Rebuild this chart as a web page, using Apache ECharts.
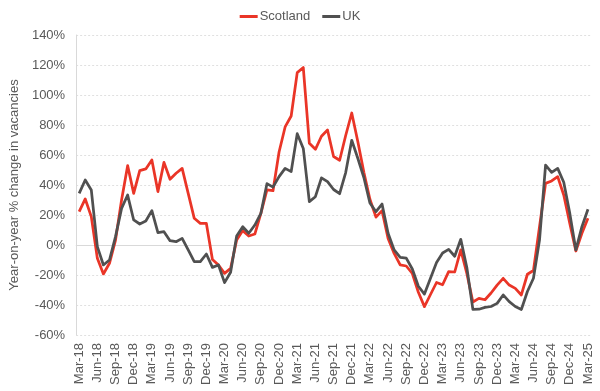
<!DOCTYPE html>
<html>
<head>
<meta charset="utf-8">
<script src="https://cdn.jsdelivr.net/npm/echarts@6/dist/echarts.min.js"></script>
<style>
html,body{margin:0;padding:0;background:#fff;}
#chart{width:600px;height:391px;}
</style>
</head>
<body>
<div id="chart"></div>
<script>
var months = [
 'Mar-18','Apr-18','May-18','Jun-18','Jul-18','Aug-18','Sep-18','Oct-18','Nov-18','Dec-18',
 'Jan-19','Feb-19','Mar-19','Apr-19','May-19','Jun-19','Jul-19','Aug-19','Sep-19','Oct-19','Nov-19','Dec-19',
 'Jan-20','Feb-20','Mar-20','Apr-20','May-20','Jun-20','Jul-20','Aug-20','Sep-20','Oct-20','Nov-20','Dec-20',
 'Jan-21','Feb-21','Mar-21','Apr-21','May-21','Jun-21','Jul-21','Aug-21','Sep-21','Oct-21','Nov-21','Dec-21',
 'Jan-22','Feb-22','Mar-22','Apr-22','May-22','Jun-22','Jul-22','Aug-22','Sep-22','Oct-22','Nov-22','Dec-22',
 'Jan-23','Feb-23','Mar-23','Apr-23','May-23','Jun-23','Jul-23','Aug-23','Sep-23','Oct-23','Nov-23','Dec-23',
 'Jan-24','Feb-24','Mar-24','Apr-24','May-24','Jun-24','Jul-24','Aug-24','Sep-24','Oct-24','Nov-24','Dec-24',
 'Jan-25','Feb-25','Mar-25'
];

var scotland = [
 22.2, 30.7, 18.9, -8.9, -19.3, -12.2, 3.3, 30, 52.9, 34.4,
 49.6, 50.7, 56.7, 35.6, 55.1, 43.8, 47.8, 51.1, 34.4, 17.8, 14.4, 14.4,
 -9.6, -13.3, -18.9, -15.6, 3.3, 9.6, 6, 7.3, 21.1, 36.7, 36.2, 62,
 78.7, 86, 114.9, 118.3, 67.8, 63.8, 72.5, 76.7, 59, 56.5,
 73, 88, 69, 48.5, 30.5, 18.6, 22.9, 4.4, -5.6, -13.3, -14, -19,
 -31.5, -41.1, -33, -25, -26.5, -17.8, -18, -3.3, -18.9,
 -38, -35.6, -36.5, -32, -26.7, -22.2, -26.7, -28.9, -33.3, -19.5, -17,
 12.2, 41.1, 42.7, 45.6, 33.3, 14.4, -4, 7.8, 17.8
];

var uk = [
 34.4, 43.3, 36.7, -1.1, -13.3, -10, 5.6, 24.4, 33.3, 16.7,
 14, 16, 22.9, 8.2, 8.9, 2.9, 2.2, 4.4, -3.3, -11.1, -11.1, -6,
 -14.9, -13.3, -25.1, -18.2, 6, 12.2, 7.8, 13.3, 21.1, 40.9, 38.6, 45.6,
 51.1, 48.9, 74.2, 64.4, 28.9, 32.2, 44.8, 42.2, 37, 34.2,
 48.3, 69.8, 57.8, 45, 28, 22.2, 27.3, 7.8, -3.3, -8.2, -8.7, -16,
 -27.5, -32.7, -22.2, -11.7, -5.3, -2.9, -7.5, 3.8, -15,
 -42.9, -42.8, -41.6, -41, -38.9, -33.3, -37.8, -41, -43, -31, -22.2,
 3.3, 53.3, 48.4, 51.1, 41.8, 21.1, -3.3, 12.2, 23.8
];

var yTicks = {min: -60, max: 140, step: 20};

var font = 'Liberation Sans, Arial, sans-serif';
var textColor = '#595959';

var chart = echarts.init(document.getElementById('chart'), null, {renderer: 'canvas'});
chart.setOption({
  animation: false,
  backgroundColor: '#ffffff',
  textStyle: {fontFamily: font, color: textColor},
  legend: {
    top: 5,
    left: 'center',
    icon: 'rect',
    itemWidth: 18,
    itemHeight: 3,
    itemGap: 12,
    textStyle: {fontFamily: font, fontSize: 13, color: textColor, padding: [0, 0, 0, -3]},
    data: ['Scotland', 'UK']
  },
  grid: {left: 73, right: 9, top: 35, bottom: 56, containLabel: false},
  xAxis: [{
    type: 'category',
    data: months,
    boundaryGap: true,
    axisLine: {show: false, onZero: false},
    axisTick: {show: false},
    splitLine: {show: false},
    axisLabel: {
      interval: 2,
      rotate: 90,
      margin: 8,
      fontSize: 13,
      fontFamily: font,
      color: textColor
    }
  }, {
    type: 'category',
    data: months,
    position: 'bottom',
    boundaryGap: true,
    axisLine: {show: true, onZero: true, lineStyle: {color: '#d9d9d9', width: 1}},
    axisTick: {show: false},
    axisLabel: {show: false},
    splitLine: {show: false}
  }],
  yAxis: {
    type: 'value',
    min: yTicks.min,
    max: yTicks.max,
    interval: yTicks.step,
    name: 'Year-on-year % change in vacancies',
    nameLocation: 'middle',
    nameGap: 54,
    nameTextStyle: {fontFamily: font, fontSize: 13, color: textColor},
    axisLine: {show: true, lineStyle: {color: '#d9d9d9', width: 1}},
    axisTick: {show: false},
    axisLabel: {
      formatter: '{value}%',
      margin: 11,
      fontSize: 13,
      fontFamily: font,
      color: textColor
    },
    splitLine: {show: true, lineStyle: {color: '#e0e0e0', type: [2, 2], width: 1}}
  },
  series: [{
    name: 'Scotland',
    type: 'line',
    data: scotland,
    xAxisIndex: 0,
    symbol: 'none',
    lineStyle: {color: '#EA3527', width: 2.75, join: 'round'},
    itemStyle: {color: '#EA3527'},
    z: 3
  }, {
    name: 'UK',
    type: 'line',
    data: uk,
    xAxisIndex: 0,
    symbol: 'none',
    lineStyle: {color: '#505050', width: 2.75, join: 'round'},
    itemStyle: {color: '#505050'},
    z: 4
  }]
});
</script>
</body>
</html>
